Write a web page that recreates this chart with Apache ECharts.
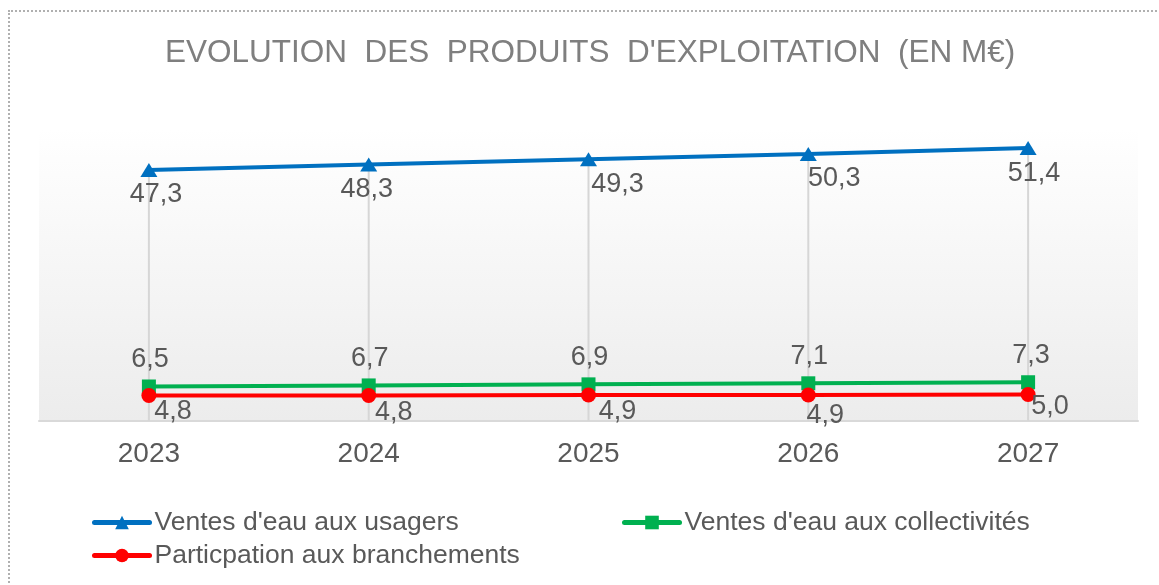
<!DOCTYPE html>
<html>
<head>
<meta charset="utf-8">
<script src="https://cdn.jsdelivr.net/npm/echarts@6/dist/echarts.min.js"></script>
<style>
    html, body { margin: 0; padding: 0; background: #fff; }
    #frame {
        position: absolute; left: 8px; top: 10px; width: 1200px; height: 700px;
        border: 2px dotted #b0b0b0;
    }
    #chart { position: absolute; left: 0; top: 0; width: 1159px; height: 585px; }
</style>
</head>
<body>
<div id="frame"></div>
<div id="chart"></div>
<script>
    // années
    var years = ['2023', '2024', '2025', '2026', '2027'];
    // ventes d'eau aux usagers (M€)
    var usagers = [47.3, 48.3, 49.3, 50.3, 51.4];
    // ventes d'eau aux collectivités (M€)
    var collectivites = [6.5, 6.7, 6.9, 7.1, 7.3];
    // participation aux branchements (M€)
    var branchements = [4.8, 4.8, 4.9, 4.9, 5.0];

    var nameUsagers = "Ventes d'eau aux usagers",
        nameCollect = "Ventes d'eau aux collectivités",
        nameBranch = 'Particpation aux branchements';

    // décalage des étiquettes (comme dans l'original)
    var blueLabelDx = [7, -2, 29, 26, 6];
    var redLabelDx = [24, 25, 29, 17, 22];
    var redLabelDy = [16, 17, 17, 21, 12];

    var font = 'Liberation Sans, Arial, sans-serif';

    function fmt(p) {
        return p.value.toFixed(1).replace('.', ',');
    }

    function withLabel(values, dx, dy) {
        return values.map(function (v, i) {
            return {
                value: v,
                label: { offset: [dx[i], dy[i]] }
            };
        });
    }

    var myChart = echarts.init(document.getElementById('chart'));

    var labelStyle = {
        show: true,
        position: 'inside',
        color: '#595959',
        fontSize: 27,
        fontFamily: font,
        formatter: fmt
    };

    function legendItem(name, left, top) {
        return {
            data: [name],
            left: left,
            top: top,
            orient: 'horizontal',
            itemWidth: 55,
            itemHeight: 17,
            lineStyle: { width: 5, cap: 'round' },
            textStyle: { color: '#595959', fontSize: 26.5, fontFamily: font }
        };
    }

    var option = {
        backgroundColor: 'transparent',
        animation: false,
        title: {
            text: "EVOLUTION  DES  PRODUITS  D'EXPLOITATION  (EN M€)",
            left: 160,
            top: 32,
            textStyle: { color: '#7f7f7f', fontSize: 31.5, fontWeight: 'normal', fontFamily: font }
        },
        legend: [
            legendItem(nameUsagers, 87, 504),
            legendItem(nameCollect, 617, 504),
            legendItem(nameBranch, 87, 537)
        ],
        grid: {
            left: 39,
            right: 21,
            top: 129,
            height: 292,
            show: true,
            borderWidth: 0,
            backgroundColor: new echarts.graphic.LinearGradient(0, 0, 0, 1, [
                { offset: 0, color: '#ffffff' },
                { offset: 1, color: '#ececec' }
            ])
        },
        xAxis: {
            type: 'category',
            data: years,
            boundaryGap: true,
            axisLine: { lineStyle: { color: '#d9d9d9', width: 2 } },
            axisTick: { show: false },
            axisLabel: { color: '#595959', fontSize: 28, fontFamily: font, margin: 19 }
        },
        yAxis: {
            type: 'value',
            min: 0,
            max: 55,
            show: false,
            splitLine: { show: false }
        },
        series: [
            {
                // lignes de rappel verticales
                name: 'drop',
                type: 'bar',
                data: usagers,
                barWidth: 2,
                silent: true,
                z: 1,
                itemStyle: { color: '#d6d6d6' }
            },
            {
                name: nameUsagers,
                type: 'line',
                data: withLabel(usagers, blueLabelDx, [25, 25, 25, 25, 25]),
                symbol: 'triangle',
                symbolSize: [17, 14],
                lineStyle: { color: '#0070c0', width: 4 },
                itemStyle: { color: '#0070c0' },
                label: labelStyle,
                z: 3
            },
            {
                name: nameCollect,
                type: 'line',
                data: withLabel(collectivites, [1, 1, 1, 1, 3], [-27, -27, -27, -27, -27]),
                symbol: 'rect',
                symbolSize: 14,
                lineStyle: { color: '#00b050', width: 4 },
                itemStyle: { color: '#00b050' },
                label: labelStyle,
                z: 3
            },
            {
                name: nameBranch,
                type: 'line',
                data: withLabel(branchements, redLabelDx, redLabelDy),
                symbol: 'circle',
                symbolSize: 15,
                lineStyle: { color: '#ff0000', width: 4 },
                itemStyle: { color: '#ff0000' },
                label: labelStyle,
                z: 4
            }
        ]
    };

    myChart.setOption(option);
</script>
</body>
</html>
